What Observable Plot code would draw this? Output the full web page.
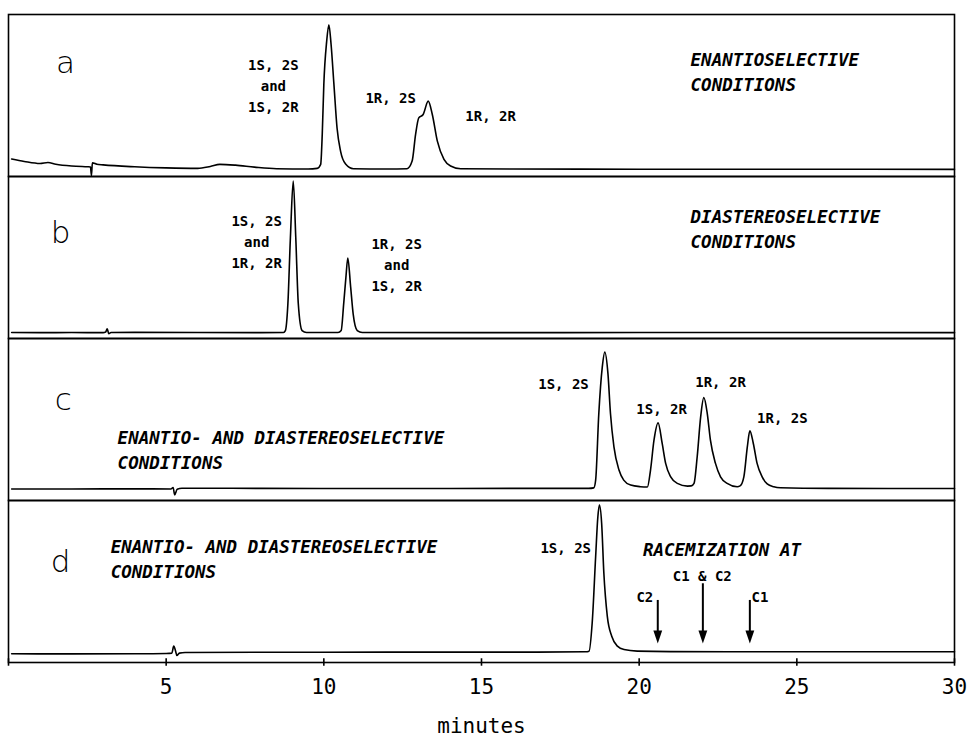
<!DOCTYPE html>
<html>
<head>
<meta charset="utf-8">
<script src="https://cdn.jsdelivr.net/npm/d3@7"></script>
<script src="https://cdn.jsdelivr.net/npm/@observablehq/plot@0.6"></script>
<style>
  html, body { margin: 0; padding: 0; background: #fff; }
  #chart svg { display: block; }
</style>
</head>
<body>
<div id="chart"></div>
<script>
// ---- Data (time in minutes, detector signal in % of panel height) ----
const panels = ["a", "b", "c", "d"];

const timeA   = [0.1, 0.5, 1.0, 1.25, 1.5, 2.0, 2.5, 2.6, 2.63, 2.66, 2.8, 3.0, 4.0, 5.0, 6.0, 6.4, 6.7, 7.2, 7.8, 8.5, 9.5, 9.79, 9.90, 9.95, 10.00, 10.09, 10.16, 10.23, 10.32, 10.42, 10.53, 10.69, 10.94, 12.0, 12.64, 12.80, 12.91, 13.01, 13.15, 13.31, 13.44, 13.60, 13.81, 14.02, 14.34, 16, 20, 25, 30];
const signalA = [10.8, 9.3, 8.0, 8.6, 7.6, 6.5, 6.0, 5.9, 0.5, 8.4, 7.6, 7.2, 6.0, 5.3, 5.0, 6.2, 7.5, 7.0, 5.8, 4.8, 4.6, 5.0, 7.5, 26.2, 56.9, 83.4, 93.7, 81.5, 56.9, 29.8, 15.7, 7.7, 4.8, 4.6, 4.8, 9.5, 26, 36.2, 38.3, 46.5, 38.3, 21.8, 10.6, 6.5, 4.8, 4.6, 4.5, 4.5, 4.4];

const timeB   = [0.1, 1, 2, 3.0, 3.08, 3.13, 3.18, 3.25, 4, 6, 8, 8.72, 8.78, 8.86, 8.94, 9.03, 9.11, 9.19, 9.31, 9.45, 10.45, 10.55, 10.63, 10.70, 10.76, 10.85, 10.93, 11.06, 11.22, 15, 20, 30];
const signalB = [3.7, 3.6, 3.7, 3.6, 4.0, 6.0, 3.0, 3.7, 3.8, 3.7, 3.6, 3.7, 4.9, 21.5, 62.3, 97.2, 62.3, 21.5, 4.9, 3.7, 3.7, 4.9, 21.5, 37.7, 49.7, 31.9, 15.2, 4.9, 3.7, 3.6, 3.7, 3.6];

const timeC   = [0.1, 2, 4, 5.15, 5.22, 5.27, 5.35, 5.5, 8, 12, 16, 18.4, 18.56, 18.62, 18.72, 18.83, 18.91, 19.01, 19.09, 19.20, 19.36, 19.51, 19.73, 20.04, 20.26, 20.36, 20.47, 20.60, 20.73, 20.84, 21.00, 21.21, 21.53, 21.65, 21.74, 21.84, 21.95, 22.05, 22.16, 22.26, 22.42, 22.58, 22.79, 23.11, 23.2, 23.32, 23.43, 23.51, 23.62, 23.74, 23.90, 24.06, 24.27, 24.48, 26, 30];
const signalC = [7.1, 7.1, 7.2, 7.1, 8.0, 3.5, 7.0, 7.6, 7.5, 7.4, 7.5, 7.5, 7.8, 12.6, 53.7, 82.3, 91.6, 78.3, 53.7, 33.1, 18.8, 12.6, 9.5, 8.5, 8.3, 18.8, 37.2, 47.9, 35.2, 22.9, 14.6, 10.6, 8.9, 9.0, 10.6, 27.0, 51.6, 63.5, 53.7, 37.2, 22.9, 14.6, 10.6, 8.5, 9.0, 14.6, 33.1, 43.0, 35.2, 22.9, 14.6, 10.2, 8.5, 7.9, 7.5, 7.4];

const timeD   = [0.1, 2, 4, 5.0, 5.18, 5.24, 5.30, 5.34, 5.42, 5.6, 8, 12, 16, 18.3, 18.41, 18.51, 18.62, 18.69, 18.74, 18.81, 18.88, 18.99, 19.13, 19.31, 19.52, 19.94, 21, 25, 30];
const signalD = [5.4, 5.3, 5.4, 5.6, 5.8, 10.1, 7.0, 4.3, 5.8, 6.2, 6.3, 6.4, 6.4, 6.6, 7.0, 24.4, 65.4, 90.0, 97.2, 86.0, 55.2, 28.5, 16.2, 10.1, 8.0, 7.0, 6.7, 6.6, 6.6];

// panel letters
const letterText   = ["a", "b", "c", "d"];
const letterTime   = [1.81, 1.65, 1.74, 1.65];
const letterSignal = [69.8, 65.2, 61.8, 62.2];

// peak labels
const peakPanel  = ["a", "a", "a", "b", "b", "c", "c", "c", "c", "d", "d", "d", "d"];
const peakText   = ["1S, 2S\nand\n1S, 2R", "1R, 2S", "1R, 2R", "1S, 2S\nand\n1R, 2R", "1R, 2S\nand\n1S, 2R", "1S, 2S", "1S, 2R", "1R, 2R", "1R, 2S", "1S, 2S", "C1 & C2", "C2", "C1"];
const peakTime   = [8.40, 12.12, 15.29, 7.87, 12.31, 17.6, 20.71, 22.58, 24.54, 17.67, 22.0, 20.18, 23.83];
const peakSignal = [56.9, 49.5, 38.5, 60.7, 46.3, 73.1, 57.4, 74.2, 52.0, 71.6, 54.2, 41.2, 41.2];

// condition labels
const condPanel  = ["a", "b", "c", "d", "d"];
const condText   = ["ENANTIOSELECTIVE\nCONDITIONS", "DIASTEREOSELECTIVE\nCONDITIONS", "ENANTIO- AND DIASTEREOSELECTIVE\nCONDITIONS", "ENANTIO- AND DIASTEREOSELECTIVE\nCONDITIONS", "RACEMIZATION AT"];
const condTime   = [21.63, 21.63, 3.46, 3.24, 20.12];
const condSignal = [65.2, 68.3, 32.0, 64.9, 70.6];

// racemization arrows (panel d)
const arrowTime  = [20.59, 22.02, 23.51];
const arrowStart = [34.6, 44.9, 34.6];
const arrowTip   = [11.7, 11.7, 11.7];

const xTicks = [5, 10, 15, 20, 25, 30];
const xTickMarks = [0, 5, 10, 15, 20, 25, 30];

// ---- Build tables ----
const traces = [
  ...timeA.map((t, i) => ({panel: "a", t, v: signalA[i]})),
  ...timeB.map((t, i) => ({panel: "b", t, v: signalB[i]})),
  ...timeC.map((t, i) => ({panel: "c", t, v: signalC[i]})),
  ...timeD.map((t, i) => ({panel: "d", t, v: signalD[i]}))
];
const letters = letterText.map((s, i) => ({panel: panels[i], s, t: letterTime[i], v: letterSignal[i]}));
const peaks = peakText.map((s, i) => ({panel: peakPanel[i], s, t: peakTime[i], v: peakSignal[i]}));
const conds = condText.map((s, i) => ({panel: condPanel[i], s, t: condTime[i], v: condSignal[i]}));
const arrows = arrowTime.map((t, i) => ({panel: "d", t, v1: arrowStart[i], v2: arrowTip[i]}));
const ticks = xTickMarks.map(t => ({panel: "d", t}));

// downward filled triangle whose tip is at the anchor point
const arrowHead = {
  draw(ctx, size) {
    const r = Math.sqrt(size / Math.PI);
    ctx.moveTo(0, 0);
    ctx.lineTo(-r * 0.68, -r * 2);
    ctx.lineTo(r * 0.68, -r * 2);
    ctx.closePath();
  }
};

const chart = Plot.plot({
  width: 967,
  height: 736,
  marginLeft: 8,
  marginRight: 13,
  marginTop: 13,
  marginBottom: 73,
  style: {fontFamily: "'DejaVu Sans Mono', monospace", fontSize: "21px", color: "#000", background: "#fff"},
  x: {domain: [0, 30], ticks: xTicks, tickSize: 0, tickPadding: 17, label: "minutes", labelAnchor: "center", labelArrow: "none"},
  y: {domain: [0, 100], axis: null},
  fy: {domain: panels, axis: null, padding: 0},
  marks: [
    Plot.frame({stroke: "#000", strokeWidth: 1.6}),
    Plot.line(traces, {x: "t", y: "v", fy: "panel", z: "panel", stroke: "#000", strokeWidth: 1.6, curve: "monotone-x"}),
    Plot.ruleX(ticks, {x: "t", fy: "panel", y1: -2.3, y2: 2.3, stroke: "#000", strokeWidth: 1.6}),
    Plot.text(letters, {x: "t", y: "v", fy: "panel", text: "s", fontFamily: "'DejaVu Sans', sans-serif", fontWeight: 200, fontSize: 31, fill: "#000"}),
    Plot.text(peaks, {x: "t", y: "v", fy: "panel", text: "s", fontFamily: "'DejaVu Sans Mono', monospace", fontWeight: "bold", fontSize: 14, lineHeight: 1.5, fill: "#000"}),
    Plot.text(conds, {x: "t", y: "v", fy: "panel", text: "s", textAnchor: "start", fontFamily: "'DejaVu Sans Mono', monospace", fontWeight: "bold", fontStyle: "italic", fontSize: 17.5, lineHeight: 1.43, fill: "#000"}),
    Plot.ruleX(arrows, {x: "t", y1: "v1", y2: "v2", fy: "panel", dy: -6, stroke: "#000", strokeWidth: 2}),
    Plot.dot(arrows, {x: "t", y: "v2", fy: "panel", symbol: arrowHead, r: 6.5, fill: "#000", stroke: "none"})
  ]
});
document.getElementById("chart").appendChild(chart);
</script>
</body>
</html>
